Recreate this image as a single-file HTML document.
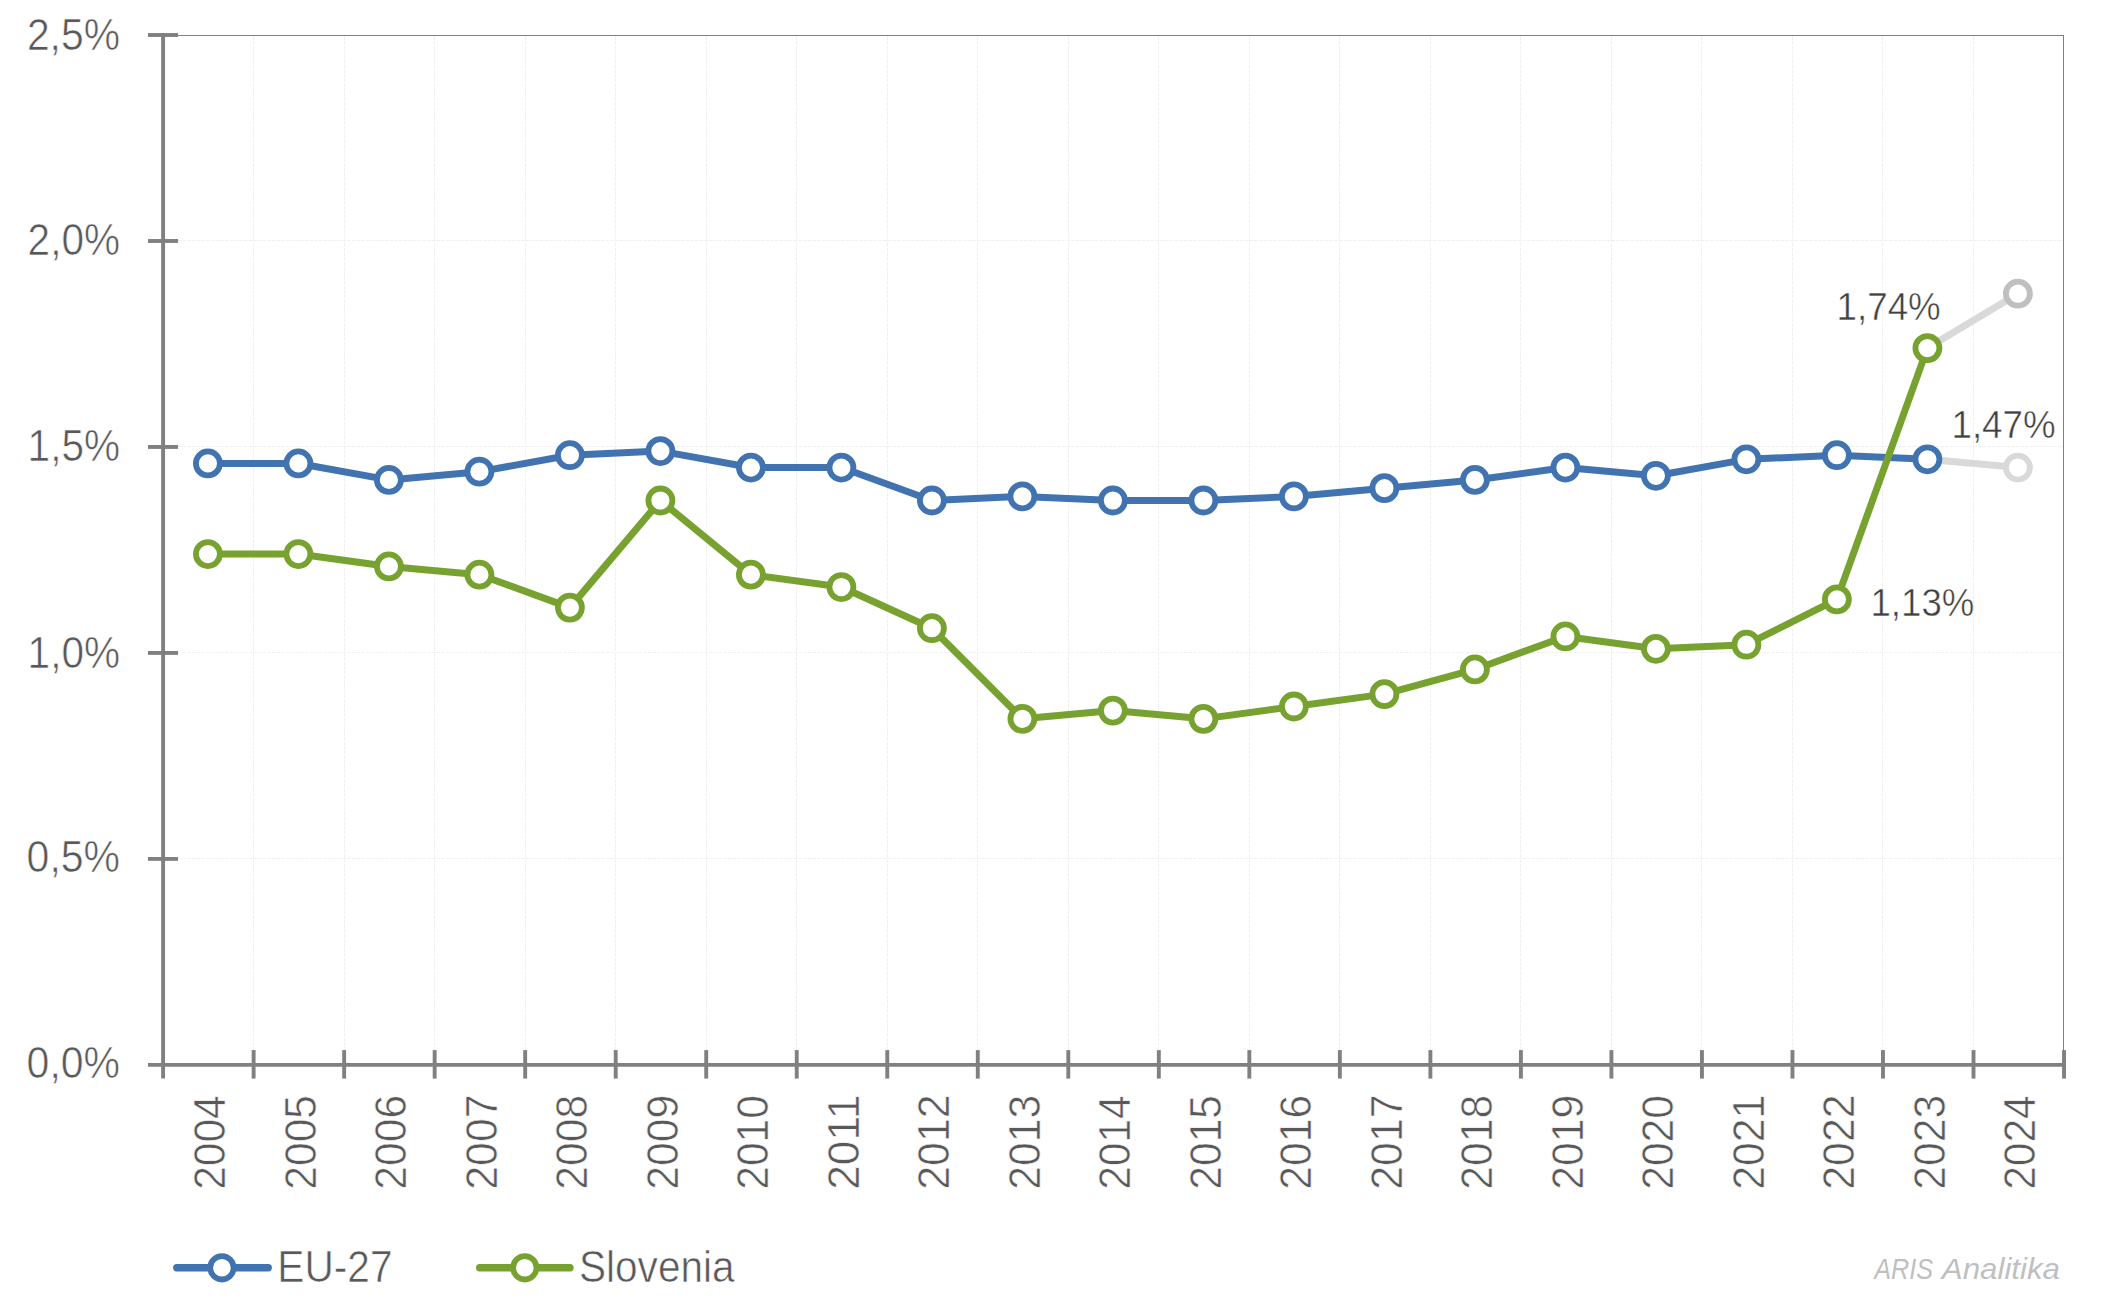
<!DOCTYPE html>
<html lang="sl">
<head>
<meta charset="utf-8">
<title>EU-27 / Slovenia</title>
<style>
html,body{margin:0;padding:0;background:#fff;}
body{width:2105px;height:1306px;overflow:hidden;}
svg{display:block;}
text{font-family:"Liberation Sans",sans-serif;}
</style>
</head>
<body>
<svg width="2105" height="1306" viewBox="0 0 2105 1306">
<rect width="2105" height="1306" fill="#ffffff"/>
<g stroke="#f0f0f0" stroke-width="1" stroke-dasharray="3.5 1.2" fill="none">
<line x1="178" y1="858.50" x2="2063" y2="858.50"/>
<line x1="178" y1="652.50" x2="2063" y2="652.50"/>
<line x1="178" y1="446.50" x2="2063" y2="446.50"/>
<line x1="178" y1="240.50" x2="2063" y2="240.50"/>
<line x1="253.50" y1="36.5" x2="253.50" y2="1050"/>
<line x1="344.50" y1="36.5" x2="344.50" y2="1050"/>
<line x1="434.50" y1="36.5" x2="434.50" y2="1050"/>
<line x1="525.50" y1="36.5" x2="525.50" y2="1050"/>
<line x1="615.50" y1="36.5" x2="615.50" y2="1050"/>
<line x1="706.50" y1="36.5" x2="706.50" y2="1050"/>
<line x1="796.50" y1="36.5" x2="796.50" y2="1050"/>
<line x1="887.50" y1="36.5" x2="887.50" y2="1050"/>
<line x1="977.50" y1="36.5" x2="977.50" y2="1050"/>
<line x1="1068.50" y1="36.5" x2="1068.50" y2="1050"/>
<line x1="1158.50" y1="36.5" x2="1158.50" y2="1050"/>
<line x1="1249.50" y1="36.5" x2="1249.50" y2="1050"/>
<line x1="1339.50" y1="36.5" x2="1339.50" y2="1050"/>
<line x1="1430.50" y1="36.5" x2="1430.50" y2="1050"/>
<line x1="1520.50" y1="36.5" x2="1520.50" y2="1050"/>
<line x1="1611.50" y1="36.5" x2="1611.50" y2="1050"/>
<line x1="1701.50" y1="36.5" x2="1701.50" y2="1050"/>
<line x1="1792.50" y1="36.5" x2="1792.50" y2="1050"/>
<line x1="1882.50" y1="36.5" x2="1882.50" y2="1050"/>
<line x1="1973.50" y1="36.5" x2="1973.50" y2="1050"/>
</g>
<g stroke="#808080" stroke-width="1" fill="none">
<line x1="165" y1="35.5" x2="2064" y2="35.5"/>
<line x1="2063.5" y1="35" x2="2063.5" y2="1064"/>
</g>
<g stroke="#808080" stroke-width="3.9" fill="none">
<line x1="163.10" y1="33" x2="163.10" y2="1078.6"/>
<line x1="148" y1="1064.90" x2="2066" y2="1064.90"/>
<line x1="148" y1="858.92" x2="178" y2="858.92"/>
<line x1="148" y1="652.94" x2="178" y2="652.94"/>
<line x1="148" y1="446.96" x2="178" y2="446.96"/>
<line x1="148" y1="240.98" x2="178" y2="240.98"/>
<line x1="148" y1="35.00" x2="178" y2="35.00"/>
<line x1="253.62" y1="1050.1" x2="253.62" y2="1078.6"/>
<line x1="344.14" y1="1050.1" x2="344.14" y2="1078.6"/>
<line x1="434.66" y1="1050.1" x2="434.66" y2="1078.6"/>
<line x1="525.18" y1="1050.1" x2="525.18" y2="1078.6"/>
<line x1="615.70" y1="1050.1" x2="615.70" y2="1078.6"/>
<line x1="706.22" y1="1050.1" x2="706.22" y2="1078.6"/>
<line x1="796.74" y1="1050.1" x2="796.74" y2="1078.6"/>
<line x1="887.26" y1="1050.1" x2="887.26" y2="1078.6"/>
<line x1="977.78" y1="1050.1" x2="977.78" y2="1078.6"/>
<line x1="1068.30" y1="1050.1" x2="1068.30" y2="1078.6"/>
<line x1="1158.82" y1="1050.1" x2="1158.82" y2="1078.6"/>
<line x1="1249.34" y1="1050.1" x2="1249.34" y2="1078.6"/>
<line x1="1339.86" y1="1050.1" x2="1339.86" y2="1078.6"/>
<line x1="1430.38" y1="1050.1" x2="1430.38" y2="1078.6"/>
<line x1="1520.90" y1="1050.1" x2="1520.90" y2="1078.6"/>
<line x1="1611.42" y1="1050.1" x2="1611.42" y2="1078.6"/>
<line x1="1701.94" y1="1050.1" x2="1701.94" y2="1078.6"/>
<line x1="1792.46" y1="1050.1" x2="1792.46" y2="1078.6"/>
<line x1="1882.98" y1="1050.1" x2="1882.98" y2="1078.6"/>
<line x1="1973.50" y1="1050.1" x2="1973.50" y2="1078.6"/>
<line x1="2064.02" y1="1050.1" x2="2064.02" y2="1078.6"/>
</g>
<line x1="1927.40" y1="459.32" x2="2017.90" y2="467.56" stroke="#d9d9d9" stroke-width="7" stroke-linecap="round"/>
<polyline points="207.90,463.44 298.40,463.44 388.90,479.92 479.40,471.68 569.90,455.20 660.40,451.08 750.90,467.56 841.40,467.56 931.90,500.51 1022.40,496.40 1112.90,500.51 1203.40,500.51 1293.90,496.40 1384.40,488.16 1474.90,479.92 1565.40,467.56 1655.90,475.80 1746.40,459.32 1836.90,455.20 1927.40,459.32" fill="none" stroke="#4273B1" stroke-width="7" stroke-linejoin="round" stroke-linecap="round"/>
<g fill="#ffffff" stroke="#4273B1" stroke-width="5.8">
<circle cx="207.90" cy="463.44" r="12"/>
<circle cx="298.40" cy="463.44" r="12"/>
<circle cx="388.90" cy="479.92" r="12"/>
<circle cx="479.40" cy="471.68" r="12"/>
<circle cx="569.90" cy="455.20" r="12"/>
<circle cx="660.40" cy="451.08" r="12"/>
<circle cx="750.90" cy="467.56" r="12"/>
<circle cx="841.40" cy="467.56" r="12"/>
<circle cx="931.90" cy="500.51" r="12"/>
<circle cx="1022.40" cy="496.40" r="12"/>
<circle cx="1112.90" cy="500.51" r="12"/>
<circle cx="1203.40" cy="500.51" r="12"/>
<circle cx="1293.90" cy="496.40" r="12"/>
<circle cx="1384.40" cy="488.16" r="12"/>
<circle cx="1474.90" cy="479.92" r="12"/>
<circle cx="1565.40" cy="467.56" r="12"/>
<circle cx="1655.90" cy="475.80" r="12"/>
<circle cx="1746.40" cy="459.32" r="12"/>
<circle cx="1836.90" cy="455.20" r="12"/>
<circle cx="1927.40" cy="459.32" r="12"/>
</g>
<circle cx="2017.90" cy="467.56" r="12" fill="#ffffff" stroke="#d9d9d9" stroke-width="5.8"/>
<line x1="1927.40" y1="348.09" x2="2017.90" y2="293.71" stroke="#d9d9d9" stroke-width="7" stroke-linecap="round"/>
<polyline points="207.90,554.07 298.40,554.07 388.90,566.43 479.40,574.67 569.90,607.62 660.40,500.51 750.90,574.67 841.40,587.03 931.90,628.22 1022.40,718.85 1112.90,710.61 1203.40,718.85 1293.90,706.49 1384.40,694.14 1474.90,669.42 1565.40,636.46 1655.90,648.82 1746.40,644.70 1836.90,599.39 1927.40,348.09" fill="none" stroke="#77A230" stroke-width="7" stroke-linejoin="round" stroke-linecap="round"/>
<g fill="#ffffff" stroke="#77A230" stroke-width="5.8">
<circle cx="207.90" cy="554.07" r="12"/>
<circle cx="298.40" cy="554.07" r="12"/>
<circle cx="388.90" cy="566.43" r="12"/>
<circle cx="479.40" cy="574.67" r="12"/>
<circle cx="569.90" cy="607.62" r="12"/>
<circle cx="660.40" cy="500.51" r="12"/>
<circle cx="750.90" cy="574.67" r="12"/>
<circle cx="841.40" cy="587.03" r="12"/>
<circle cx="931.90" cy="628.22" r="12"/>
<circle cx="1022.40" cy="718.85" r="12"/>
<circle cx="1112.90" cy="710.61" r="12"/>
<circle cx="1203.40" cy="718.85" r="12"/>
<circle cx="1293.90" cy="706.49" r="12"/>
<circle cx="1384.40" cy="694.14" r="12"/>
<circle cx="1474.90" cy="669.42" r="12"/>
<circle cx="1565.40" cy="636.46" r="12"/>
<circle cx="1655.90" cy="648.82" r="12"/>
<circle cx="1746.40" cy="644.70" r="12"/>
<circle cx="1836.90" cy="599.39" r="12"/>
<circle cx="1927.40" cy="348.09" r="12"/>
</g>
<circle cx="2017.90" cy="293.71" r="12" fill="#ffffff" stroke="#bfbfbf" stroke-width="5.8"/>
<g>
<text transform="translate(26.88,49.50) scale(0.9315,1)" font-size="43.90" fill="#595959" stroke="#ffffff" stroke-width="0.60">2,5%</text>
<text transform="translate(27.59,255.40) scale(0.9242,1)" font-size="43.90" fill="#595959" stroke="#ffffff" stroke-width="0.60">2,0%</text>
<text transform="translate(27.58,461.40) scale(0.9243,1)" font-size="43.90" fill="#595959" stroke="#ffffff" stroke-width="0.60">1,5%</text>
<text transform="translate(27.58,667.50) scale(0.9243,1)" font-size="43.90" fill="#595959" stroke="#ffffff" stroke-width="0.60">1,0%</text>
<text transform="translate(26.58,872.20) scale(0.9345,1)" font-size="43.90" fill="#595959" stroke="#ffffff" stroke-width="0.60">0,5%</text>
<text transform="translate(26.58,1078.20) scale(0.9345,1)" font-size="43.90" fill="#595959" stroke="#ffffff" stroke-width="0.60">0,0%</text>
</g>
<g>
<text transform="translate(225.06,1189.71) rotate(-90) scale(0.9651,1)" font-size="43.90" fill="#595959" stroke="#ffffff" stroke-width="0.60">2004</text>
<text transform="translate(315.58,1189.72) rotate(-90) scale(0.9708,1)" font-size="43.90" fill="#595959" stroke="#ffffff" stroke-width="0.60">2005</text>
<text transform="translate(406.10,1189.72) rotate(-90) scale(0.9719,1)" font-size="43.90" fill="#595959" stroke="#ffffff" stroke-width="0.60">2006</text>
<text transform="translate(496.62,1189.73) rotate(-90) scale(0.9754,1)" font-size="43.90" fill="#595959" stroke="#ffffff" stroke-width="0.60">2007</text>
<text transform="translate(587.14,1189.72) rotate(-90) scale(0.9719,1)" font-size="43.90" fill="#595959" stroke="#ffffff" stroke-width="0.60">2008</text>
<text transform="translate(677.66,1189.73) rotate(-90) scale(0.9731,1)" font-size="43.90" fill="#595959" stroke="#ffffff" stroke-width="0.60">2009</text>
<text transform="translate(768.18,1189.72) rotate(-90) scale(0.9696,1)" font-size="43.90" fill="#595959" stroke="#ffffff" stroke-width="0.60">2010</text>
<text transform="translate(858.70,1189.82) rotate(-90) scale(1.0089,1)" font-size="43.90" fill="#595959" stroke="#ffffff" stroke-width="0.60">2011</text>
<text transform="translate(949.22,1189.73) rotate(-90) scale(0.9754,1)" font-size="43.90" fill="#595959" stroke="#ffffff" stroke-width="0.60">2012</text>
<text transform="translate(1039.74,1189.72) rotate(-90) scale(0.9719,1)" font-size="43.90" fill="#595959" stroke="#ffffff" stroke-width="0.60">2013</text>
<text transform="translate(1130.26,1189.71) rotate(-90) scale(0.9651,1)" font-size="43.90" fill="#595959" stroke="#ffffff" stroke-width="0.60">2014</text>
<text transform="translate(1220.78,1189.72) rotate(-90) scale(0.9708,1)" font-size="43.90" fill="#595959" stroke="#ffffff" stroke-width="0.60">2015</text>
<text transform="translate(1311.30,1189.72) rotate(-90) scale(0.9719,1)" font-size="43.90" fill="#595959" stroke="#ffffff" stroke-width="0.60">2016</text>
<text transform="translate(1401.82,1189.73) rotate(-90) scale(0.9754,1)" font-size="43.90" fill="#595959" stroke="#ffffff" stroke-width="0.60">2017</text>
<text transform="translate(1492.34,1189.72) rotate(-90) scale(0.9719,1)" font-size="43.90" fill="#595959" stroke="#ffffff" stroke-width="0.60">2018</text>
<text transform="translate(1582.86,1189.73) rotate(-90) scale(0.9731,1)" font-size="43.90" fill="#595959" stroke="#ffffff" stroke-width="0.60">2019</text>
<text transform="translate(1673.38,1189.72) rotate(-90) scale(0.9696,1)" font-size="43.90" fill="#595959" stroke="#ffffff" stroke-width="0.60">2020</text>
<text transform="translate(1763.90,1189.73) rotate(-90) scale(0.9742,1)" font-size="43.90" fill="#595959" stroke="#ffffff" stroke-width="0.60">2021</text>
<text transform="translate(1854.42,1189.73) rotate(-90) scale(0.9754,1)" font-size="43.90" fill="#595959" stroke="#ffffff" stroke-width="0.60">2022</text>
<text transform="translate(1944.94,1189.72) rotate(-90) scale(0.9719,1)" font-size="43.90" fill="#595959" stroke="#ffffff" stroke-width="0.60">2023</text>
<text transform="translate(2035.46,1189.71) rotate(-90) scale(0.9651,1)" font-size="43.90" fill="#595959" stroke="#ffffff" stroke-width="0.60">2024</text>
</g>
<text transform="translate(1836.61,320.05) scale(0.9614,1)" font-size="38.20" fill="#404040" stroke="#ffffff" stroke-width="0.50">1,74%</text>
<text transform="translate(1951.51,437.95) scale(0.9614,1)" font-size="38.20" fill="#404040" stroke="#ffffff" stroke-width="0.50">1,47%</text>
<text transform="translate(1870.51,616.05) scale(0.9585,1)" font-size="38.20" fill="#404040" stroke="#ffffff" stroke-width="0.50">1,13%</text>
<line x1="176.80" y1="1267.8" x2="268.20" y2="1267.8" stroke="#4273B1" stroke-width="7.4" stroke-linecap="round"/>
<circle cx="221.90" cy="1267.8" r="11.7" fill="#ffffff" stroke="#4273B1" stroke-width="5.8"/>
<line x1="479.70" y1="1267.8" x2="570.00" y2="1267.8" stroke="#77A230" stroke-width="7.4" stroke-linecap="round"/>
<circle cx="524.80" cy="1267.8" r="11.7" fill="#ffffff" stroke="#77A230" stroke-width="5.8"/>
<text transform="translate(277.27,1281.90) scale(0.9268,1)" font-size="43.90" fill="#595959" stroke="#ffffff" stroke-width="0.60">EU-27</text>
<text transform="translate(579.00,1281.90) scale(0.9241,1)" font-size="43.90" fill="#595959" stroke="#ffffff" stroke-width="0.60">Slovenia</text>
<text y="1278.7" font-size="30.4" font-style="italic" fill="#bfbfbf"><tspan x="1874.30" textLength="58.79" lengthAdjust="spacingAndGlyphs">ARIS</tspan><tspan> </tspan><tspan x="1941.88" textLength="118.13" lengthAdjust="spacingAndGlyphs">Analitika</tspan></text>
</svg>
</body>
</html>
